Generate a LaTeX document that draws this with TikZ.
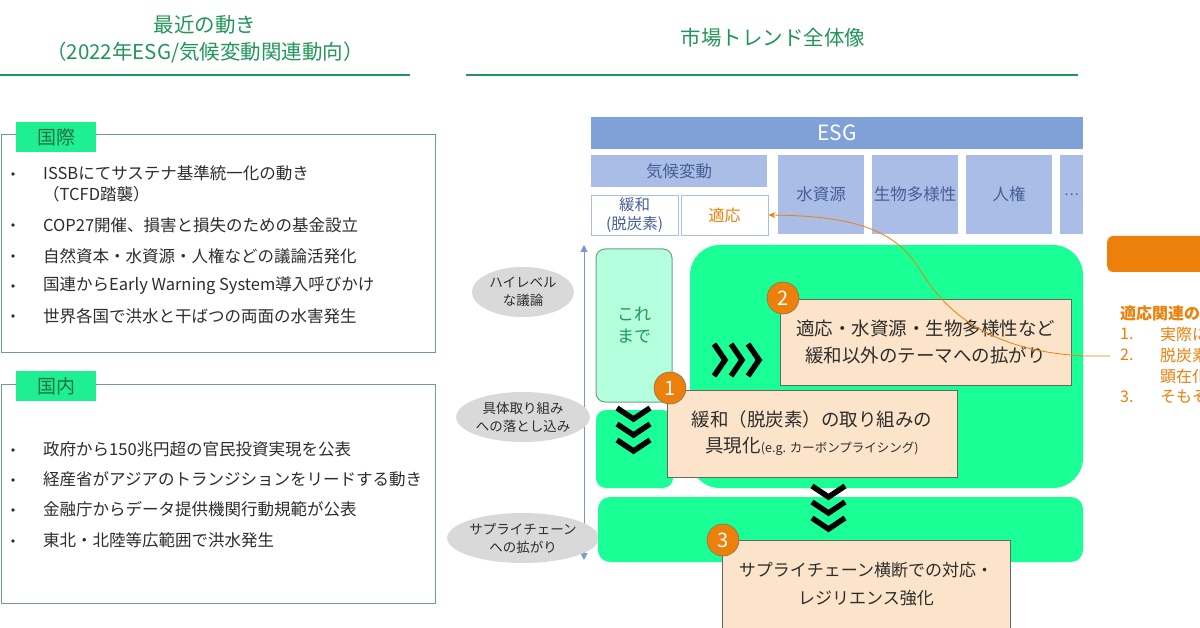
\documentclass[tikz,border=0pt]{standalone}
\usepackage{fontspec}
\setmainfont{Noto Sans CJK JP}
\usetikzlibrary{arrows.meta,shapes.geometric}
\definecolor{tgreen}{RGB}{34,150,90}
\definecolor{mint}{RGB}{25,255,150}
\definecolor{tabgreen}{RGB}{30,240,145}
\definecolor{lmint}{RGB}{180,255,222}
\definecolor{esgblue}{RGB}{128,160,216}
\definecolor{ltblue}{RGB}{170,189,230}
\definecolor{bluetext}{RGB}{70,95,150}
\definecolor{peach}{RGB}{252,228,202}
\definecolor{orng}{RGB}{236,128,10}
\definecolor{ellgray}{RGB}{217,217,217}
\definecolor{axisblue}{RGB}{125,150,205}
\definecolor{framegreen}{RGB}{110,160,130}
\definecolor{darktext}{RGB}{45,45,45}
\definecolor{tabtext}{RGB}{30,110,70}
\tikzset{
  ttl/.style={text=tgreen, font=\fontsize{20.5}{27}\selectfont, align=center, inner sep=0},
  tline/.style={draw=tgreen, line width=2.5pt},
  frm/.style={draw=framegreen, line width=1pt, fill=white, minimum width=434pt, minimum height=218pt, inner sep=0},
  tab/.style={fill=tabgreen, text=tabtext, minimum width=80pt, minimum height=30pt, inner sep=0, font=\fontsize{19}{20}\selectfont},
  item/.style={anchor=west, inner sep=0, text=darktext, font=\fontsize{16.5}{21}\selectfont, align=left},
  blt/.style={circle, fill=darktext, inner sep=0, minimum size=3.6pt},
  esgbox/.style={fill=ltblue, text=bluetext, inner sep=0, font=\fontsize{16.5}{19}\selectfont, align=center},
  subbox/.style={fill=white, draw=ltblue, line width=0.8pt, inner sep=0, minimum width=87pt, minimum height=40pt, font=\fontsize{15.5}{19}\selectfont, align=center},
  ell/.style={ellipse, fill=ellgray, minimum width=102pt, minimum height=50pt, inner sep=0, text=darktext, font=\fontsize{13.5}{18}\selectfont, align=center},
  pbox/.style={fill=peach, draw=gray!80!black, line width=0.8pt, inner sep=0, text=darktext, align=center},
  num/.style={circle, fill=orng, draw={rgb,255:red,130;green,120;blue,80}, line width=0.6pt, minimum size=32pt, inner sep=0, text=white, font=\fontsize{20}{20}\selectfont},
  chev/.style={line width=5.5pt, miter limit=10, line join=miter},
  otxt/.style={anchor=west, inner sep=0, text=orng, font=\fontsize{16}{20}\selectfont},
}
\begin{document}
\begin{tikzpicture}[x=1pt,y=-1pt]
\useasboundingbox (0,0) rectangle (1200,628);
\clip (0,0) rectangle (1200,628);
\fill[white] (0,0) rectangle (1200,628);

% ===== Left titles =====
\node[ttl] (lt) at (205,39) {最近の動き\\（2022年ESG/気候変動関連動向）};
\draw[tline] (0,75) -- (410,75);
\node[ttl] (rt) at (773,38) {市場トレンド全体像};
\draw[tline] (466,75) -- (1078,75);

% ===== International frame =====
\node[frm] (f1) at (218,244) {};
\node[tab] (tab1) at (56,137) {国際};
\foreach \y in {174,225,256,286,316} \node[blt] at (13,\y) {};
\node[item] (i1) at (43,173) {ISSBにてサステナ基準統一化の動き};
\node[item] (i1b) at (43,194) {（TCFD踏襲）};
\node[item] (i2) at (43,225) {COP27開催、損害と損失のための基金設立};
\node[item] (i3) at (43,256) {自然資本・水資源・人権などの議論活発化};
\node[item] (i4) at (43,286) {国連からEarly Warning System導入呼びかけ};
\node[item] (i5) at (43,316) {世界各国で洪水と干ばつの両面の水害発生};

% ===== Domestic frame =====
\node[frm] (f2) at (218,494) {};
\node[tab] (tab2) at (56,386) {国内};
\foreach \y in {450,480,510,541} \node[blt] at (13,\y) {};
\node[item] (j1) at (43,449) {政府から150兆円超の官民投資実現を公表};
\node[item] (j2) at (43,479) {経産省がアジアのトランジションをリードする動き};
\node[item] (j3) at (43,509) {金融庁からデータ提供機関行動規範が公表};
\node[item] (j4) at (43,540) {東北・北陸等広範囲で洪水発生};

% ===== ESG structure =====
\node[esgbox, fill=esgblue, text=white, minimum width=492pt, minimum height=32pt, font=\fontsize{21}{22}\selectfont] (esg) at (837,133) {ESG};
\node[esgbox, minimum width=176pt, minimum height=32pt] (kiko) at (679,171) {気候変動};
\node[subbox, text=bluetext] (kanwa) at (634.5,215) {緩和\\(脱炭素)};
\node[subbox, text=orng, font=\fontsize{16}{18}\selectfont] (tekio) at (724.5,215) {適応};
\node[esgbox, minimum width=86pt, minimum height=79pt] (water) at (821,194.5) {水資源};
\node[esgbox, minimum width=86pt, minimum height=79pt] (bio) at (915,194.5) {生物多様性};
\node[esgbox, minimum width=86pt, minimum height=79pt] (hr) at (1009,194.5) {人権};
\node[esgbox, minimum width=23pt, minimum height=79pt, anchor=west] (etc) at (1060,194.5) {};
\node[inner sep=0, text=bluetext, font=\fontsize{14}{16}\selectfont] (dots) at (1071.5,194.5) {…};

% ===== Axis and ellipses =====
\coordinate (axtop) at (584,245);
\coordinate (axbot) at (584,560);
\draw[axisblue, line width=1pt, {Triangle[length=7pt,width=7pt]}-{Triangle[length=7pt,width=7pt]}] (axtop) -- (axbot);
\node[ell] (e1) at (523,292) {ハイレベル\\な議論};
\node[ell] (e2) at (523,417) {具体取り組み\\への落とし込み};
\node[ell] (e3) at (523,538) {サプライチェーン\\への拡がり};

% ===== Green areas =====
\fill[mint, rounded corners=30pt] (690,245) rectangle (1083,488);
\fill[mint, rounded corners=10pt] (596,410) rectangle (673,488);
\fill[mint, rounded corners=12pt] (598,497) rectangle (1083,562);
\node[fill=lmint, draw=framegreen, line width=1pt, rounded corners=9pt, minimum width=76pt, minimum height=153pt, inner sep=0, text=tgreen, font=\fontsize{17}{22}\selectfont, align=center] (kore) at (634,325.5) {これ\\まで};

% ===== Chevrons =====
\foreach \x in {714,731,748}
  \draw[chev] (\x,344) -- (\x+11,360) -- (\x,376);
\foreach \y in {408,424,440}
  \draw[chev] (617,\y) -- (633.5,\y+11) -- (650,\y);
\foreach \y in {486,502,518}
  \draw[chev] (812,\y) -- (828.5,\y+11) -- (845,\y);

% ===== Peach boxes =====
\node[pbox, minimum width=291pt, minimum height=86pt, font=\fontsize{18.5}{27}\selectfont] (b2) at (925.5,342) {適応・水資源・生物多様性など\\緩和以外のテーマへの拡がり};
\node[pbox, minimum width=290pt, minimum height=87pt, font=\fontsize{18.5}{26}\selectfont] (b1) at (812,433.5) {緩和（脱炭素）の取り組みの\\具現化{\fontsize{12.5}{14}\selectfont (e.g. カーボンプライシング)}};
\node[pbox, minimum width=288pt, minimum height=100pt, anchor=north] (b3) at (866,540) {};
\node[inner sep=0, text=darktext, font=\fontsize{17}{28}\selectfont, align=center] (b3t) at (866,584) {サプライチェーン横断での対応・\\レジリエンス強化};
\node[num] (n2) at (783,298) {2};
\node[num] (n1) at (670,388) {1};
\node[num] (n3) at (723,540) {3};

% ===== Right orange column (cut off at the edge, as in the reference) =====
\node[fill=orng, rounded corners=6pt, minimum width=110pt, minimum height=36pt, anchor=west, inner sep=0] (obox) at (1107,254) {};
\node[otxt, font=\bfseries\fontsize{16}{20}\selectfont] (oh) at (1120,313) {適応関連の};
\node[otxt] (o1n) at (1120,334) {1.};
\node[otxt] (o1) at (1160,334) {実際に};
\node[otxt] (o2n) at (1120,355) {2.};
\node[otxt] (o2) at (1160,355) {脱炭素};
\node[otxt] (o2b) at (1160,376) {顕在化};
\node[otxt] (o3n) at (1120,397) {3.};
\node[otxt] (o3) at (1160,397) {そもそ};
\coordinate (cs) at (1110,356);
\draw[orng, line width=0.8pt, -{Stealth[length=7pt,width=6pt]}] (cs) -- (1085,356) .. controls (1000,352) and (950,320) .. (920,270) .. controls (895,228) and (850,216) .. (tekio.east);
\end{tikzpicture}
\end{document}
